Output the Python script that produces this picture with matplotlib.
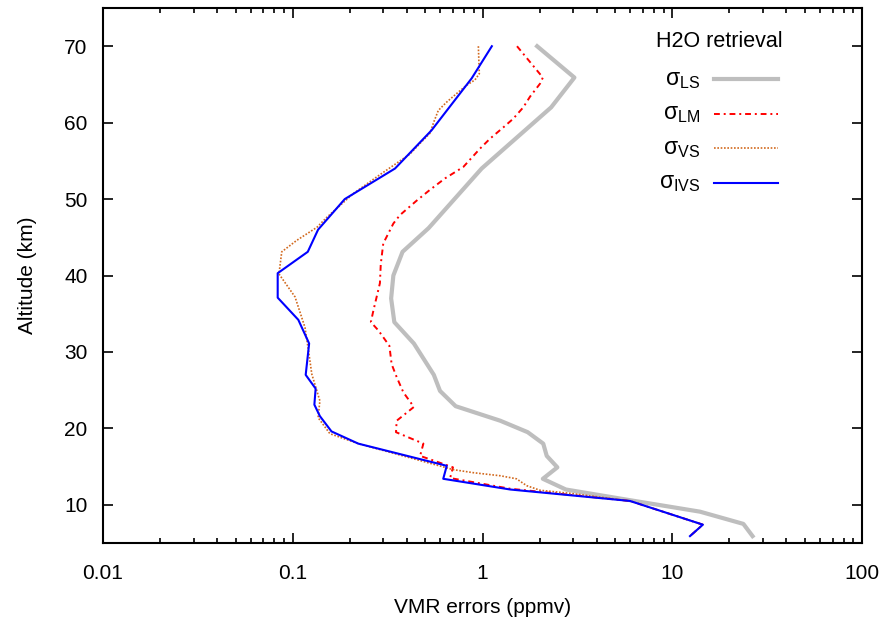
import matplotlib
matplotlib.use('Agg')
import matplotlib.pyplot as plt
from matplotlib.ticker import NullLocator

plt.rcParams['font.family'] = ['Liberation Sans', 'DejaVu Sans']

# ── data (altitude km, error ppmv) ────────────────────────────────
alt_ls = [70.0, 65.9, 62.0, 54.0, 46.2, 43.1, 40.0, 37.0, 33.9, 31.1, 27.0, 24.9,
          22.9, 21.0, 19.5, 18.0, 16.4, 14.9, 13.4, 12.0, 10.6, 9.1, 7.5, 5.9]
err_ls = [1.94, 3.05, 2.30, 0.99, 0.52, 0.379, 0.339, 0.330, 0.343, 0.435, 0.554, 0.597,
          0.722, 1.24, 1.73, 2.09, 2.18, 2.48, 2.08, 2.75, 5.99, 14.0, 23.7, 26.5]

alt_lm = [70.0, 65.9, 65.1, 63.4, 62.0, 60.5, 59.4, 57.9, 56.6, 54.2, 52.7, 51.2,
          49.8, 47.9, 46.8, 44.2, 41.5, 39.0, 35.4, 33.9, 32.8, 30.8, 28.4, 26.7,
          24.7, 22.8, 21.0, 19.5, 18.0, 16.4, 14.9, 13.5, 12.1, 10.5, 7.4, 5.9]
err_lm = [1.52, 2.08, 2.01, 1.78, 1.64, 1.45, 1.29, 1.095, 0.970, 0.792, 0.634, 0.528,
          0.450, 0.367, 0.339, 0.300, 0.291, 0.288, 0.266, 0.258, 0.283, 0.323, 0.332, 0.353,
          0.383, 0.435, 0.353, 0.350, 0.488, 0.469, 0.699, 0.675, 1.40, 5.99, 14.5, 12.4]

alt_vs = [70.0, 66.4, 65.6, 64.9, 64.0, 62.7, 61.6, 60.1, 58.6, 57.3, 55.9, 52.9,
          50.7, 47.6, 46.3, 44.6, 43.1, 40.2, 37.2, 33.2, 30.2, 27.1, 23.6, 21.4,
          19.3, 18.0, 14.6, 14.2, 13.8, 13.4, 12.5, 11.9, 11.5, 10.5, 7.4, 5.9]
err_vs = [0.951, 0.962, 0.913, 0.826, 0.746, 0.648, 0.585, 0.554, 0.528, 0.469, 0.415, 0.277,
          0.208, 0.151, 0.134, 0.105, 0.0875, 0.0846, 0.1028, 0.116, 0.121, 0.126, 0.139, 0.136,
          0.157, 0.2216, 0.701, 0.894, 1.24, 1.51, 1.71, 2.01, 2.89, 5.99, 14.5, 12.4]

alt_ivs = [70.0, 65.8, 59.0, 54.0, 50.0, 46.0, 43.1, 40.3, 37.1, 34.2, 31.1, 27.0,
           25.2, 23.1, 21.6, 19.6, 18.0, 15.1, 13.4, 12.0, 10.5, 7.4, 5.9]
err_ivs = [1.12, 0.877, 0.539, 0.346, 0.188, 0.136, 0.120, 0.0833, 0.0833, 0.107, 0.122, 0.117,
           0.132, 0.130, 0.139, 0.160, 0.2216, 0.648, 0.621, 1.40, 5.99, 14.5, 12.4]

xticks = [0.01, 0.1, 1, 10, 100]
xticklabels = ['0.01', '0.1', '1', '10', '100']
yticks = [10, 20, 30, 40, 50, 60, 70]

series = [
    (err_ls, alt_ls, dict(color='#bebebe', lw=3.0, ls='-'), 'σ$_\\mathregular{LS}$'),
    (err_lm, alt_lm, dict(color='#ff0000', lw=1.4, ls=(0, (3, 2, 1, 2))), 'σ$_\\mathregular{LM}$'),
    (err_vs, alt_vs, dict(color='#d2691e', lw=1.2, ls=(0, (1, 1))), 'σ$_\\mathregular{VS}$'),
    (err_ivs, alt_ivs, dict(color='#0000ff', lw=1.5, ls='-'), 'σ$_\\mathregular{IVS}$'),
]

fig = plt.figure(figsize=(8.9, 6.18), dpi=100)
ax = fig.add_axes([103/890, 1 - 543/618, 759/890, 535/618])

for x, y, st, _ in series:
    ax.plot(x, y, **st)

ax.set_xscale('log')
ax.set_xlim(0.01, 100)
ax.set_ylim(5, 75)
ax.set_xticks(xticks)
ax.set_xticklabels(xticklabels)
ax.set_yticks(yticks)
ax.yaxis.set_minor_locator(NullLocator())
ax.tick_params(which='both', direction='in', top=True, right=True,
               labelsize=15, width=1.2)
ax.tick_params(axis='x', pad=15)
ax.tick_params(axis='y', pad=11)
ax.tick_params(which='major', length=7)
ax.tick_params(which='minor', length=3.5)
for sp in ax.spines.values():
    sp.set_linewidth(1.5)

ax.set_xlabel('VMR errors (ppmv)', fontsize=15, labelpad=11)
ax.set_ylabel('Altitude (km)', fontsize=15, labelpad=20)

# ── gnuplot-style key ─────────────────────────────────────────────
ax.text(0.812, 0.938, 'H2O retrieval', transform=ax.transAxes,
        ha='center', va='center', fontsize=15.5)
rows = [0.8667, 0.8028, 0.7383, 0.6729]
for (x, y, st, lbl), ry in zip(series, rows):
    ax.plot([0.805, 0.889], [ry, ry], transform=ax.transAxes, clip_on=False, **st)
    ax.text(0.7866, ry, lbl, transform=ax.transAxes, ha='right', va='center',
            fontsize=16.5)

fig.savefig('out.png', dpi=100, facecolor='white')
